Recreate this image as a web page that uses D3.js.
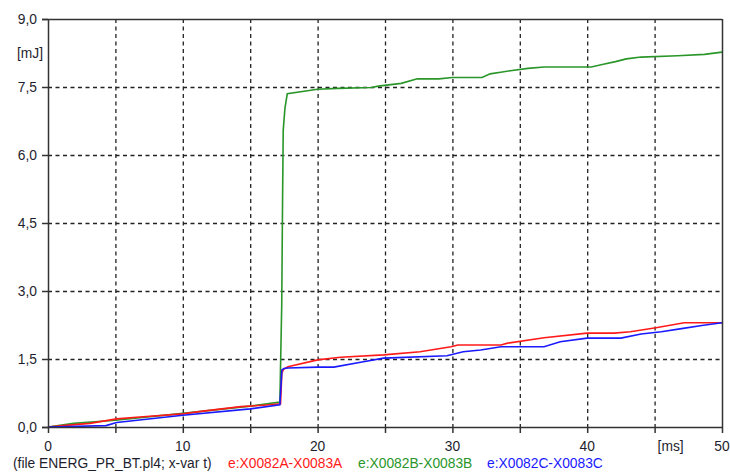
<!DOCTYPE html>
<html><head><meta charset="utf-8">
<script src="https://cdn.jsdelivr.net/npm/d3@7"></script>
<style>
html,body{margin:0;padding:0;background:#fff;}
svg text{font-family:"Liberation Sans",Arial,sans-serif;}
</style></head>
<body><svg id="c" width="730" height="472"></svg>
<script>
// Data (time in ms, energy in mJ)
const xTicks = [0,5,10,15,20,25,30,35,40,45,50];
const xTickLabels = ["0","","10","","20","","30","","40","[ms]","50"];
const yTicks = [0,1.5,3,4.5,6,7.5,9];
const yTickLabels = ["0,0","1,5","3,0","4,5","6,0","7,5","9,0"];
const yUnit = "[mJ]";
const footer = "(file ENERG_PR_BT.pl4; x-var t)";
const seriesNames = ["e:X0082A-X0083A","e:X0082B-X0083B","e:X0082C-X0083C"];
const seriesColors = ["#ff1a1a","#2a962a","#1a1aff"];

const tA = [0,1.1,3.1,5.1,6.8,10,11.5,14.3,16,17.25,17.35,17.5,17.8,20,21.7,24.9,27.6,29.9,30.4,33.6,34.1,36.8,40,42,43.2,45.1,47.2,50];
const vA = [0,0.03,0.08,0.18,0.22,0.29,0.35,0.45,0.48,0.51,1.2,1.28,1.33,1.48,1.54,1.59,1.66,1.77,1.81,1.81,1.85,1.97,2.07,2.07,2.10,2.19,2.30,2.30];

const tB = [0,1.9,5,10,15,17.2,17.34,17.4,17.45,17.58,17.75,20,21.5,24,24.5,26.2,27.4,29,30,32.2,32.8,33.7,34.3,35.6,36.8,40.3,41.2,42.1,42.9,44,46.7,48.7,50];
const vB = [0,0.08,0.15,0.3,0.46,0.55,2.7,4.97,6.55,7.04,7.35,7.45,7.47,7.49,7.52,7.58,7.68,7.68,7.71,7.71,7.79,7.83,7.86,7.91,7.94,7.94,8.0,8.06,8.12,8.16,8.19,8.22,8.27];

const tC = [0,4.3,5.1,10,15,17.2,17.35,17.5,17.8,20,21.2,23.4,24.9,29.6,30.8,32.1,33.6,36.8,38,40,42.5,44,45.5,47,48.5,50];
const vC = [0,0.03,0.1,0.26,0.4,0.49,1.26,1.29,1.3,1.32,1.32,1.44,1.52,1.57,1.66,1.7,1.77,1.77,1.88,1.96,1.96,2.05,2.1,2.17,2.24,2.3];

const series = [
  {t:tA, v:vA, color:seriesColors[0]},
  {t:tB, v:vB, color:seriesColors[1]},
  {t:tC, v:vC, color:seriesColors[2]}
];

const L=48, R=722, T=19, B=427;
const x = d3.scaleLinear().domain([0,50]).range([L,R]);
const y = d3.scaleLinear().domain([0,9]).range([B,T]);
const svg = d3.select("#c");
const axisCol = "#333";
const txtCol = "#1e1e2e";
const fs = 13.8;

// grid
svg.append("g").selectAll("line").data(xTicks.slice(1,-1)).join("line")
  .attr("x1",d=>x(d)+0.5).attr("x2",d=>x(d)+0.5).attr("y1",T).attr("y2",B)
  .attr("stroke","#222").attr("stroke-width",1.3).attr("stroke-dasharray","4,3.5");
svg.append("g").selectAll("line").data(yTicks.slice(1,-1)).join("line")
  .attr("x1",L).attr("x2",R).attr("y1",d=>y(d)+0.5).attr("y2",d=>y(d)+0.5)
  .attr("stroke","#222").attr("stroke-width",1.3).attr("stroke-dasharray","4,3.5");

// series
const line = d3.line().x(d=>x(d[0])).y(d=>y(d[1]));
[series[1],series[0],series[2]].forEach(s=>{
  svg.append("path").datum(s.t.map((t,i)=>[t,s.v[i]]))
    .attr("d",line).attr("fill","none").attr("stroke",s.color)
    .attr("stroke-width",1.6).attr("stroke-linejoin","miter");
});

// frame
svg.append("line").attr("x1",L-6).attr("x2",R).attr("y1",B+0.5).attr("y2",B+0.5).attr("stroke",axisCol).attr("stroke-width",1.5);
svg.append("line").attr("x1",L-6).attr("x2",R).attr("y1",T+0.5).attr("y2",T+0.5).attr("stroke",axisCol).attr("stroke-width",1.5);
svg.append("line").attr("x1",L+0.5).attr("x2",L+0.5).attr("y1",T).attr("y2",B).attr("stroke",axisCol).attr("stroke-width",1.5);
svg.append("line").attr("x1",R+0.5).attr("x2",R+0.5).attr("y1",T).attr("y2",B).attr("stroke",axisCol).attr("stroke-width",1.5);

// x ticks
svg.append("g").selectAll("line").data(xTicks).join("line")
  .attr("x1",d=>x(d)+0.5).attr("x2",d=>x(d)+0.5).attr("y1",B).attr("y2",B+6)
  .attr("stroke",axisCol).attr("stroke-width",1.5);
// y ticks
svg.append("g").selectAll("line").data(yTicks).join("line")
  .attr("x1",L-6).attr("x2",L).attr("y1",d=>y(d)+0.5).attr("y2",d=>y(d)+0.5)
  .attr("stroke",axisCol).attr("stroke-width",1.5);

// x labels
svg.append("g").selectAll("text").data(xTicks).join("text")
  .attr("x",(d,i)=> xTickLabels[i]==="[ms]" ? x(d)+3 : x(d))
  .attr("y",451)
  .attr("text-anchor",(d,i)=> xTickLabels[i]==="[ms]" ? "start" : "middle")
  .attr("font-size",fs).attr("fill",txtCol)
  .text((d,i)=>xTickLabels[i]);
// y labels
svg.append("g").selectAll("text").data(yTicks).join("text")
  .attr("x",37).attr("y",d=>y(d)+5).attr("text-anchor","end")
  .attr("font-size",fs).attr("fill",txtCol)
  .text((d,i)=>yTickLabels[i]);
svg.append("text").attr("x",43).attr("y",58).attr("text-anchor","end")
  .attr("font-size",fs).attr("fill",txtCol).text(yUnit);

// footer / legend
svg.append("text").attr("x",13).attr("y",468).attr("font-size",fs).attr("fill",txtCol).text(footer);
const legX = [228,358,487];
seriesNames.forEach((n,i)=>{
  svg.append("text").attr("x",legX[i]).attr("y",468).attr("font-size",fs)
    .attr("fill",seriesColors[i]).text(n);
});
</script></body></html>
